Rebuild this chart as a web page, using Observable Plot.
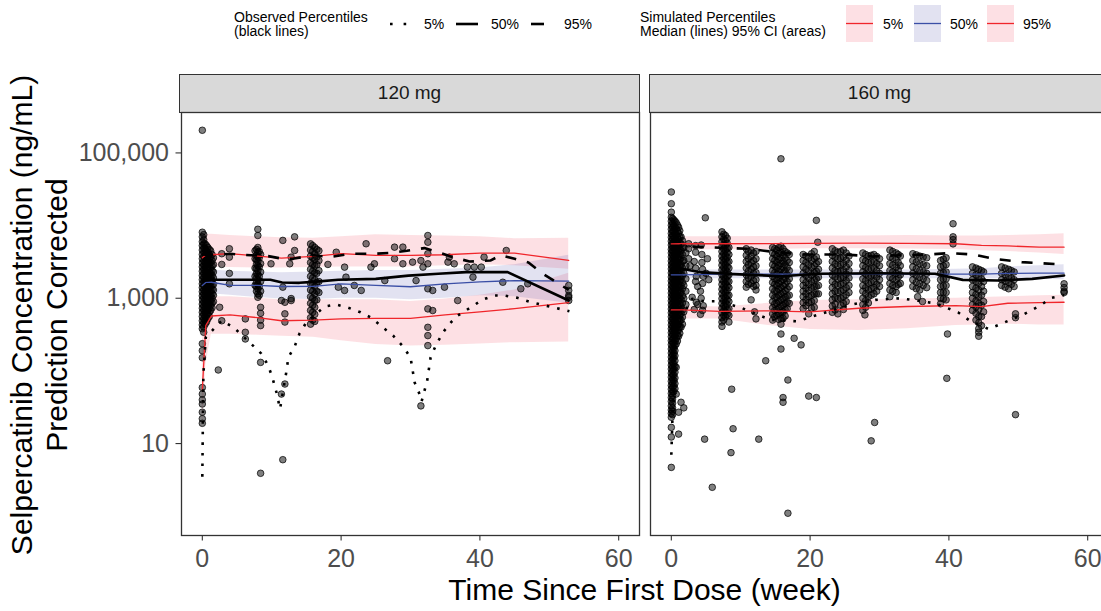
<!DOCTYPE html>
<html>
<head>
<meta charset="utf-8">
<script src="https://cdn.jsdelivr.net/npm/d3@7"></script>
<script src="https://cdn.jsdelivr.net/npm/@observablehq/plot@0.6"></script>
<style>
  html, body { margin: 0; padding: 0; background: #fff; }
  #wrap { position: relative; width: 1101px; height: 611px; overflow: hidden; background: #fff;
          font-family: "Liberation Sans", Arial, sans-serif; color: #000; }
  .strip { position: absolute; top: 74px; height: 39px; box-sizing: border-box; background: #D9D9D9;
           border: 1.3px solid #333; font-size: 19px; color: #1A1A1A; text-align: center; line-height: 36px; }
  #ytitle { position: absolute; left: -261px; top: 280px; width: 600px; height: 70px; text-align: center;
            font-size: 30px; line-height: 35px; transform: rotate(-90deg); transform-origin: 50% 50%; white-space: nowrap; }
  #xtitle { position: absolute; left: 180px; width: 929px; top: 572px; text-align: center; font-size: 30px; line-height: 36px; }
  #plot { position: absolute; left: 0; top: 100px; width: 1111px; height: 511px; }
  #plot svg { max-width: none !important; width: 1111px !important; height: 511px !important; }
  #legend { position: absolute; left: 0; top: 0; }
</style>
</head>
<body>
<div id="wrap">
  <svg id="legend" width="1101" height="50" font-family="Liberation Sans, Arial, sans-serif" font-size="14">
    <text x="234" y="22">Observed Percentiles</text>
    <text x="234" y="36">(black lines)</text>
    <line x1="390" x2="408" y1="24" y2="24" stroke="#000" stroke-width="2.6" stroke-dasharray="2.6,11"/>
    <text x="424" y="29">5%</text>
    <line x1="456" x2="478" y1="24" y2="24" stroke="#000" stroke-width="2.6"/>
    <text x="491" y="29">50%</text>
    <line x1="531" x2="544" y1="24" y2="24" stroke="#000" stroke-width="2.6"/>
    <text x="564" y="29">95%</text>
    <text x="640" y="22">Simulated Percentiles</text>
    <text x="640" y="36">Median (lines) 95% CI (areas)</text>
    <rect x="846" y="5" width="27" height="37" fill="#FDE0E4"/>
    <line x1="846" x2="873" y1="23.5" y2="23.5" stroke="#F0262B" stroke-width="1.3"/>
    <text x="883" y="29">5%</text>
    <rect x="914" y="5" width="27" height="37" fill="#E2E2F1"/>
    <line x1="914" x2="941" y1="23.5" y2="23.5" stroke="#3B4FA6" stroke-width="1.3"/>
    <text x="950" y="29">50%</text>
    <rect x="987" y="5" width="27" height="37" fill="#FDE0E4"/>
    <line x1="987" x2="1014" y1="23.5" y2="23.5" stroke="#F0262B" stroke-width="1.3"/>
    <text x="1023" y="29">95%</text>
  </svg>
  <div class="strip" id="strip0" style="left:179px;width:461px;"></div>
  <div class="strip" id="strip1" style="left:649px;width:461px;"></div>
  <div id="ytitle">Selpercatinib Concentration (ng/mL)<br>Prediction Corrected</div>
  <div id="plot"></div>
  <div id="xtitle">Time Since First Dose (week)</div>
</div>
<script>
// ---------- categories & ticks ----------
const doses = ["120 mg", "160 mg"];
const xTicks = [0, 20, 40, 60];
const yTicks = [10, 1000, 100000];

// ---------- observed data points: [week, [concentrations...]] ----------
const obs120 = [
  [0, [205000, 8100, 7000, 6000, 5300, 4600, 4000, 3500, 3050, 2700, 2350, 2050, 1800, 1580, 1400, 1230, 1080, 950, 830, 730, 640, 560, 490, 430, 380, 237, 190, 152, 59, 48, 40, 35, 27, 22, 19]],
  [0.2, [7500, 6400, 5600, 4900, 4300, 3750, 3250, 2850, 2500, 2200, 1920, 1680, 1480, 1300, 1150, 1010, 890, 780, 690, 600, 520, 460, 400, 340]],
  [0.4, [5600, 4800, 4200, 3600, 3150, 2750, 2400, 2100, 1850, 1620, 1420, 1250, 1100, 960, 850, 740, 650, 570, 500, 440]],
  [0.6, [5300, 4500, 3900, 3400, 2950, 2600, 2300, 2000, 1750, 1550, 1360, 1200, 1050, 920, 810, 710, 620, 540, 470]],
  [0.8, [5000, 4300, 3800, 3300, 2900, 2500, 2200, 1950, 1700, 1500, 1320, 1150, 1010, 890, 780, 690, 600, 520]],
  [1.0, [4700, 4000, 3450, 3000, 2650, 2300, 2050, 1800, 1580, 1400, 1230, 1080, 950, 830, 730, 640, 560]],
  [1.2, [4500, 3700, 3100, 2600, 2200, 1900, 1650, 1450, 1250, 1080, 930, 800, 680]],
  [1.4, [4000, 3300, 2800, 2400, 2050, 1750, 1520, 1320, 1150, 1000, 860, 740]],
  [1.6, [3600, 2900, 2300, 1900, 1550, 1300, 1100, 900]],
  [2.3, [103]], [2.5, [750]], [2.8, [490, 4100, 2920]], [3.9, [4800, 3680, 2200, 1580]],
  [6.2, [520, 340, 275]],
  [7.6, [4500, 3500, 2600, 2000, 1500]],
  [7.8, [4700, 3900, 3400, 2950, 2550, 2200, 1900, 1650, 1450, 1250]],
  [8.0, [8900, 7300, 5000, 4300, 3700, 3200, 2800, 2400, 2100, 1800, 1550, 1350, 1150, 1030]],
  [8.2, [4400, 3600, 2700, 2000, 1450, 1100]],
  [8.4, [4000, 3000, 2300, 1700, 1250, 750, 620, 500, 420, 131, 3.9]],
  [9.9, [2980]], [11.4, [930, 48]], [11.6, [6250, 1420, 6.0]], [11.9, [880, 610, 470, 66]],
  [12.6, [2980]], [12.8, [3680, 990, 930]], [13.3, [7000, 4540]],
  [15.6, [5600, 4600, 3800, 3100, 2500, 2000, 1600, 1300, 1050, 850, 680, 540, 440]],
  [15.9, [5300, 4400, 3600, 2900, 2350, 1900, 1550, 1250, 1000, 800, 640, 500]],
  [16.2, [5000, 4100, 3400, 2800, 2250, 1800, 1450, 1150, 930, 750, 600, 480]],
  [16.5, [4700, 3700, 2900, 2200, 1650, 1250, 950]],
  [16.8, [4500, 3300, 2400, 1700, 1200]],
  [18.1, [2920]], [19.3, [4300]], [19.6, [1420]], [20.5, [2680, 1280]], [20.7, [1950]],
  [21.9, [1500]], [22.9, [1280]], [23.6, [5620]], [24.3, [2680]], [24.8, [2980]],
  [26.3, [1750]], [26.7, [138]], [27.7, [5050, 3500]], [28.9, [5050, 2980]],
  [30.3, [3140]], [30.8, [1750]], [31.5, [3300, 33]], [31.8, [2680]],
  [32.5, [7300, 5900, 4100, 2980, 1350, 714, 398, 306, 223]], [33.2, [1280, 677]],
  [34.9, [1420]], [35.4, [3140]], [35.6, [3680]], [36.3, [2980]], [36.8, [930]],
  [38.2, [2680]], [39.0, [1950]], [39.2, [2680]], [40.2, [2680]], [40.6, [3680]],
  [43.3, [1660]], [43.8, [4540]], [45.9, [1350]], [46.9, [1580]],
  [52.8, [1500, 1280, 1090, 1030, 930]]
];

const obs160 = [
  [0, [29000, 20000, 15300, 13000, 11500, 10100, 8900, 7800, 6900, 6100, 5400, 4700, 4200, 3700, 3250, 2870, 2530, 2230, 1960, 1730, 1520, 1340, 1180, 1040, 920, 810, 710, 630, 555, 490, 430, 380, 335, 295, 260, 230, 200, 176, 155, 137, 120, 106, 93, 82, 72, 63, 56, 49, 43, 38, 33, 29, 26, 23, 16.7, 12.3, 4.7]],
  [0.18, [12500, 10800, 9500, 8300, 7300, 6500, 5700, 5000, 4450, 3950, 3500, 3050, 2700, 2380, 2100, 1850, 1630, 1430, 1260, 1110, 980, 860, 760, 670, 590, 520, 460, 405, 355, 315, 275, 245, 215, 188, 165, 145, 128, 113, 100, 88, 77, 68, 60, 52, 46, 41, 36, 31, 28, 25]],
  [0.35, [12000, 10000, 8300, 7000, 5900, 5000, 4300, 3700, 3200, 2750, 2400, 2100, 1800, 1580, 1380, 1200, 1050, 900, 780, 680, 590, 510, 440, 380, 330, 280, 240, 205, 175, 150, 125, 105, 88, 74, 62, 52]],
  [0.52, [11500, 9500, 8000, 6700, 5600, 4800, 4100, 3500, 3000, 2600, 2250, 1950, 1700, 1480, 1290, 1120, 970, 840, 730, 630, 550, 475, 410, 355, 305, 260, 222, 190, 162, 138, 115, 96, 80, 67, 57]],
  [0.7, [11000, 9000, 7500, 6300, 5300, 4500, 3850, 3300, 2850, 2450, 2100, 1800, 1550, 1330, 1150, 990, 850, 730, 630, 540, 460, 390, 330, 280, 235, 112, 48]],
  [0.88, [10200, 8400, 6900, 5800, 4900, 4150, 3550, 3050, 2650, 2280, 1950, 1680, 1440, 1240, 1070, 920, 790, 680, 585, 500, 425, 360, 305, 258]],
  [1.05, [9500, 7800, 6400, 5300, 4400, 3700, 3100, 2600, 2200, 1850, 1550, 1300, 1100, 920, 770, 640, 530, 440, 365, 300, 27, 13.5]],
  [1.22, [8500, 7000, 5800, 4800, 4000, 3400, 2850, 2400, 2000, 1700, 1420, 1200, 1000, 840, 700, 585, 485, 400, 330]],
  [1.4, [7000, 5600, 4500, 3600, 2900, 2300, 1850, 1500, 1200, 960, 770, 620, 500, 400, 37]],
  [1.6, [6200, 5000, 4000, 3200, 2600, 2050, 1650, 1350, 1080, 860, 690, 550, 440]],
  [1.8, [5000, 3300, 2200, 1500, 1000, 650, 31]],
  [2.1, [4200, 2800, 1850, 1250, 820]],
  [2.5, [5620, 4800, 3500]], [2.7, [2800]], [3.0, [1030]], [3.3, [3200, 700]],
  [3.5, [5300, 4300, 2600, 1700]], [3.6, [2000, 880]], [3.8, [1450, 820]], [4.2, [1250, 600]],
  [4.3, [5400, 1000]], [4.4, [4000, 3100]], [4.5, [2500, 1600, 680]], [4.6, [2000, 790]],
  [4.8, [11.5]], [4.9, [12800]], [5.0, [2200]], [5.2, [3500]], [5.4, [1800]], [5.9, [2.5]],
  [7.3, [8200, 7000, 6000, 5100, 4400, 3800, 3300, 2850, 2450, 2100, 1800, 1550, 1330, 1150, 990, 850, 730, 630, 540, 470, 410]],
  [7.55, [7600, 6500, 5500, 4750, 4100, 3550, 3100, 2650, 2300, 1980, 1700, 1450, 1250, 1070, 920, 790, 680, 580, 500]],
  [7.8, [7300, 6200, 5300, 4600, 3900, 3400, 2900, 2500, 2150, 1850, 1600, 1380, 1190, 1020, 880, 760, 650, 560]],
  [8.05, [6700, 5700, 4900, 4250, 3650, 3150, 2700, 2320, 2000, 1720, 1480, 1280, 1100, 950, 820, 700, 600]],
  [8.3, [5000, 4000, 3200, 2600, 2100, 1700, 1400, 1100, 900, 720, 580, 470]],
  [8.6, [7.5]], [8.7, [56]], [8.9, [16]],
  [10.8, [4800, 3900, 3200, 2600, 2100, 1700, 1420]],
  [11.1, [4400, 3500, 2900, 2350, 1900, 1550]],
  [11.5, [4600, 3800, 3100, 2500, 2000, 1600, 950]],
  [11.85, [4200, 3300, 2700, 2200, 1750, 1450]], [12.0, [650]],
  [12.2, [4400, 3500, 2800, 2250, 1800, 1500, 1300, 520]], [12.6, [11.5]], [13.6, [138]],
  [14.6, [5000, 4200, 3500, 2900, 2400, 2000, 1650, 1350, 1100, 900, 740, 610, 500]],
  [14.9, [4800, 4000, 3300, 2750, 2250, 1850, 1550, 1250, 1020, 830, 680, 560]],
  [15.2, [4600, 3800, 3150, 2600, 2150, 1800, 1500, 1250, 1030, 850, 700, 580]],
  [15.5, [5000, 4150, 3400, 2800, 2300, 1900, 1600, 1330, 1100, 900, 740, 610, 510]],
  [15.8, [83000, 5200, 4300, 3600, 3000, 2500, 2050, 1700, 1400, 1150, 950, 780, 640, 530, 440, 322, 200]],
  [16.1, [4800, 3950, 3250, 2700, 2200, 1800, 1480, 1200, 980, 800, 650, 530, 43, 37]],
  [16.4, [4400, 3600, 2900, 2350, 1900, 1550, 1270, 1040, 850, 700, 570]],
  [16.7, [4200, 3300, 2650, 2100, 1700, 1350, 1080, 880, 720]],
  [16.8, [75, 1.1]],
  [17.0, [4000, 3100, 2400, 1850, 1450, 1100, 850]], [17.7, [281]], [18.7, [228]],
  [19.0, [4000, 3300, 2700, 2200, 1800, 1500, 1250, 1050, 870, 720]],
  [19.4, [3800, 3100, 2500, 2050, 1650, 1380, 1150, 950, 790]],
  [19.8, [3600, 2900, 2350, 1900, 1550, 1280, 1050, 870, 610, 45]],
  [20.2, [4100, 3300, 2650, 2100, 1700, 1380, 1100, 900, 730]],
  [20.6, [4400, 3500, 2800, 2250, 1800, 1450, 1150, 930, 750]],
  [20.9, [11800, 3700, 3000, 2350, 1850, 1450, 1150, 43]], [21.1, [5900]],
  [21.2, [3200, 2500, 1950, 1500, 1150]],
  [23.2, [4800, 3900, 3200, 2600, 2100, 1700, 1400, 1150, 950, 780, 640]],
  [23.6, [4500, 3650, 2950, 2400, 1950, 1550, 1250, 1020, 830, 690]],
  [24.0, [4300, 3500, 2800, 2300, 1850, 1500, 1200, 980, 610]],
  [24.4, [4400, 3550, 2900, 2350, 1900, 1550, 1250, 1000, 800]],
  [24.8, [4600, 3700, 3000, 2400, 1950, 1600, 1300, 1050, 850, 700]],
  [25.2, [4200, 3350, 2700, 2150, 1750, 1400, 1120, 900]],
  [25.6, [3800, 3000, 2400, 1900, 1500, 1200]],
  [27.6, [4200, 3400, 2800, 2300, 1850, 1500, 1250, 1000, 820, 680]], [27.9, [590]],
  [28.0, [4000, 3250, 2650, 2150, 1750, 1400, 1150, 930, 750]],
  [28.4, [3800, 3100, 2500, 2000, 1600, 1300, 1050, 860]], [28.8, [3900, 3150, 2550, 2050, 1650, 1350, 1100, 10.9]],
  [29.2, [4000, 3200, 2600, 2100, 1700, 1400, 1150]], [29.3, [19.5]],
  [29.6, [3750, 3000, 2400, 1950, 1550, 1250]],
  [30.0, [3500, 2800, 2200, 1800, 1450]],
  [31.5, [4600, 3700, 3000, 2400, 1950, 1600, 1300, 1050]],
  [31.9, [4400, 3550, 2850, 2300, 1850, 1500, 1250]],
  [32.4, [4200, 3400, 2700, 2200, 1800, 1450, 1200]],
  [32.7, [4000, 3100, 2450, 1950, 1550]],
  [33.0, [3800, 2800, 2100, 1600]],
  [34.8, [4100, 3300, 2700, 2200, 1800, 1450]],
  [35.3, [3950, 3150, 2550, 2050, 1650, 1350]], [35.5, [1050]],
  [35.8, [3800, 3000, 2400, 1950, 1600, 1300]], [36.2, [900]],
  [36.3, [3700, 2900, 2300, 1850, 1500]],
  [36.8, [3600, 2800, 2200, 1750, 1400]],
  [38.8, [3300, 2700, 2200, 1800, 1450, 1200, 1000, 840]],
  [39.2, [3450, 2800, 2250, 1830, 1480, 1200, 980]],
  [39.6, [3600, 2900, 2300, 1850, 1500, 1200, 950]], [39.7, [79]], [39.8, [322]],
  [40.6, [10600, 7000, 6400, 5600]],
  [43.4, [2700, 2200, 1800, 1450, 1200, 1000, 820, 680]],
  [43.9, [2600, 2100, 1700, 1380, 1130, 920, 760, 620, 500]],
  [44.3, [2500, 2000, 1600, 1300, 1050, 850, 700, 560, 460, 380, 340, 300]],
  [44.7, [2400, 1850, 1450, 1100, 800, 560, 420]],
  [45.0, [2300, 1700, 1250, 900, 650]],
  [47.6, [2700, 2200, 1800, 1500]], [48.1, [2600, 2100, 1720, 1420]],
  [48.6, [2500, 2000, 1650, 1350]], [49.0, [2400, 1900, 1550]], [49.4, [2300, 1800, 1450]],
  [49.6, [610, 540, 25]],
  [56.6, [1580, 1400, 1250, 1200]]
];

// ---------- observed percentile lines: [week, conc] ----------
const obsP05_120 = [[0,3.5],[0.15,89],[0.5,290],[2.8,493],[4.5,398],[7.3,223],[8.5,173],[9.5,118],[10.1,81],[10.7,50],[11.2,30],[12.1,96],[12.4,154],[13.3,216],[14,326],[15,467],[17.6,768],[19.3,819],[21,744],[22.8,641],[24.3,542],[26,398],[27.5,306],[28.8,223],[30,154],[30.6,69],[31.3,48],[31.6,38],[32.4,73],[32.9,154],[33.7,230],[34.7,340],[35.6,443],[36.8,577],[38.7,751],[40.4,959],[42.1,1089],[43.5,1089],[45.4,1013],[47.1,900],[49,811],[50.9,737],[52.9,662]];
const obsP50_120 = [[0,1750],[1.3,1800],[9.8,1800],[11.5,1650],[14,1630],[16,1680],[19.6,1800],[25,1850],[29.7,2050],[34,2170],[38,2290],[44,2290],[52.8,930]];
const obsP95_120 = [[0,4000],[1.3,3900],[4,4100],[5,4000],[9.5,3800],[11.5,3500],[13,3500],[16,3900],[18.5,3700],[21.5,4100],[25,4100],[27,4200],[29.5,4500],[32,4900],[34,4300],[36,3700],[38.5,3200],[41.5,3300],[43,3900],[45,3500],[47,3100],[49,2200],[52.8,1300]];
const obsP05_160 = [[0,7],[0.3,60],[0.7,400],[3,980],[4.7,910],[6.6,910],[9.9,752],[11.6,641],[14.3,504],[18.1,482],[21.2,596],[23.1,677],[26,818],[29.4,950],[33,1000],[38,853],[41.3,641],[43,493],[45.7,378],[47.5,443],[50.9,609],[52.9,768],[54.8,1013],[56.6,1100]];
const obsP50_160 = [[0,2400],[1.5,2550],[4,2290],[9,2150],[16,2010],[21,2170],[30,2210],[38,2170],[42,1790],[47,1755],[52,1850],[56.6,2055]];
const obsP95_160 = [[0,4800],[1.5,5330],[3.5,5100],[11,4800],[15,4320],[19,4000],[25,4000],[29,3760],[32,3880],[37,4000],[40,4180],[43.5,4000],[46.5,3500],[50.5,3140],[56.6,2910]];

// ---------- simulated percentiles (median + 95% CI) ----------
const simT120     = [0, 0.5, 1.3, 4, 8, 11.4, 16, 20, 25, 30, 35, 40, 45, 52.8];
const simP05lo120 = [15, 120, 320, 320, 310, 300, 290, 260, 230, 220, 225, 235, 245, 250];
const simP05md120 = [55, 420, 570, 590, 540, 490, 500, 520, 530, 530, 590, 650, 720, 870];
const simP05hi120 = [250, 850, 1050, 1050, 1000, 950, 950, 950, 950, 900, 980, 1100, 1300, 2200];
const simP50lo120 = [1000, 1100, 1150, 1100, 1020, 980, 960, 1000, 1000, 950, 1000, 1080, 1050, 850];
const simP50md120 = [1500, 1650, 1660, 1500, 1500, 1450, 1460, 1580, 1500, 1440, 1580, 1680, 1750, 1720];
const simP50hi120 = [2300, 2450, 2450, 2350, 2300, 2250, 2300, 2350, 2400, 2400, 2500, 2600, 2900, 3900];
const simP95lo120 = [2500, 2700, 2700, 2650, 2600, 2600, 2650, 2700, 2700, 2700, 2800, 2900, 2800, 2500];
const simP95md120 = [3600, 3950, 3970, 4100, 3800, 3560, 3760, 4100, 3900, 3880, 3970, 4180, 4180, 3310];
const simP95hi120 = [7000, 7600, 7600, 7300, 7000, 6800, 6700, 7000, 7500, 7300, 7200, 7000, 6600, 6700];

const simT160     = [0, 1.5, 7, 14, 20, 27, 34, 41, 44.7, 48.5, 53, 56.6];
const simP05lo160 = [350, 520, 520, 420, 370, 360, 380, 420, 430, 440, 430, 430];
const simP05md160 = [690, 692, 660, 670, 650, 728, 770, 790, 768, 853, 870, 881];
const simP05hi160 = [900, 780, 760, 850, 930, 950, 980, 1000, 1020, 1050, 1080, 1100];
const simP50lo160 = [1850, 1850, 1850, 1850, 1850, 1850, 1850, 1850, 1850, 1850, 1820, 1800];
const simP50md160 = [2100, 2100, 2150, 2150, 2150, 2150, 2150, 2150, 2150, 2200, 2210, 2210];
const simP50hi160 = [2450, 2450, 2450, 2450, 2450, 2450, 2450, 2500, 2550, 2700, 2800, 2900];
const simP95lo160 = [4600, 4600, 4650, 4700, 4800, 4800, 4750, 4700, 4500, 4400, 4200, 4000];
const simP95md160 = [5600, 5620, 5620, 5650, 5700, 5740, 5700, 5620, 5330, 5250, 5050, 5050];
const simP95hi160 = [7000, 7000, 7000, 7100, 7200, 7200, 7300, 7200, 7200, 7300, 7500, 7700];

// ---------- build tables ----------
const cols = (c, dose) => c.flatMap(([t, vs]) => vs.map(v => ({dose, t, v})));
const pairs = (a, dose) => a.map(([t, v]) => ({dose, t, v}));
const simTable = (dose, T, a, b, c, d, e, f, g, h, i) =>
  T.map((t, k) => ({dose, t, p05lo: a[k], p05md: b[k], p05hi: c[k], p50lo: d[k], p50md: e[k], p50hi: f[k], p95lo: g[k], p95md: h[k], p95hi: i[k]}));

const points = [...cols(obs120, doses[0]), ...cols(obs160, doses[1])];
const p05 = [...pairs(obsP05_120, doses[0]), ...pairs(obsP05_160, doses[1])];
const p50 = [...pairs(obsP50_120, doses[0]), ...pairs(obsP50_160, doses[1])];
const p95 = [...pairs(obsP95_120, doses[0]), ...pairs(obsP95_160, doses[1])];
const sim = [
  ...simTable(doses[0], simT120, simP05lo120, simP05md120, simP05hi120, simP50lo120, simP50md120, simP50hi120, simP95lo120, simP95md120, simP95hi120),
  ...simTable(doses[1], simT160, simP05lo160, simP05md160, simP05hi160, simP50lo160, simP50md160, simP50hi160, simP95lo160, simP95md160, simP95hi160)
];

document.getElementById("strip0").textContent = doses[0];
document.getElementById("strip1").textContent = doses[1];

const pink = "#EE0020", lav = "#3F3F9F", red = "#F0262B", blue = "#3B4FA6";
const chart = Plot.plot({
  width: 1111, height: 511,
  marginTop: 12, marginBottom: 76, marginLeft: 180, marginRight: 2,
  style: {fontFamily: "'Liberation Sans', Arial, sans-serif", background: "transparent", overflow: "visible"},
  fx: {domain: doses, paddingInner: 0.0234, paddingOuter: 0, axis: null, label: null},
  x: {domain: [-3, 63]},
  y: {type: "log", domain: [0.543, 360000]},
  marks: [
    Plot.areaY(sim, {x: "t", y1: "p95lo", y2: "p95hi", fx: "dose", fill: pink, fillOpacity: 0.12}),
    Plot.areaY(sim, {x: "t", y1: "p05lo", y2: "p05hi", fx: "dose", fill: pink, fillOpacity: 0.12}),
    Plot.areaY(sim, {x: "t", y1: "p50lo", y2: "p50hi", fx: "dose", fill: lav, fillOpacity: 0.15}),
    Plot.dot(points, {x: "t", y: "v", fx: "dose", r: 3.3, fill: "#000", fillOpacity: 0.5, stroke: "#000", strokeOpacity: 0.8, strokeWidth: 0.9}),
    Plot.line(sim, {x: "t", y: "p05md", fx: "dose", stroke: red, strokeWidth: 1.3}),
    Plot.line(sim, {x: "t", y: "p95md", fx: "dose", stroke: red, strokeWidth: 1.3}),
    Plot.line(sim, {x: "t", y: "p50md", fx: "dose", stroke: blue, strokeWidth: 1.3}),
    Plot.line(p05, {x: "t", y: "v", fx: "dose", stroke: "#000", strokeWidth: 2.6, strokeDasharray: "2.6,8", strokeLinecap: "butt"}),
    Plot.line(p50, {x: "t", y: "v", fx: "dose", stroke: "#000", strokeWidth: 2.6}),
    Plot.line(p95, {x: "t", y: "v", fx: "dose", stroke: "#000", strokeWidth: 2.6, strokeDasharray: "11,11", strokeLinecap: "butt"}),
    Plot.frame({stroke: "#333", strokeWidth: 1.3}),
    Plot.axisX({ticks: xTicks, tickSize: 5.5, tickPadding: 8, fontSize: 25, color: "#4D4D4D", stroke: "#333", strokeWidth: 1.1, label: null}),
    Plot.axisY({ticks: yTicks, tickFormat: d3.format(","), tickSize: 5.5, tickPadding: 7, fontSize: 25, color: "#4D4D4D", stroke: "#333", strokeWidth: 1.1, label: null})
  ]
});
document.getElementById("plot").appendChild(chart);
</script>
</body>
</html>
